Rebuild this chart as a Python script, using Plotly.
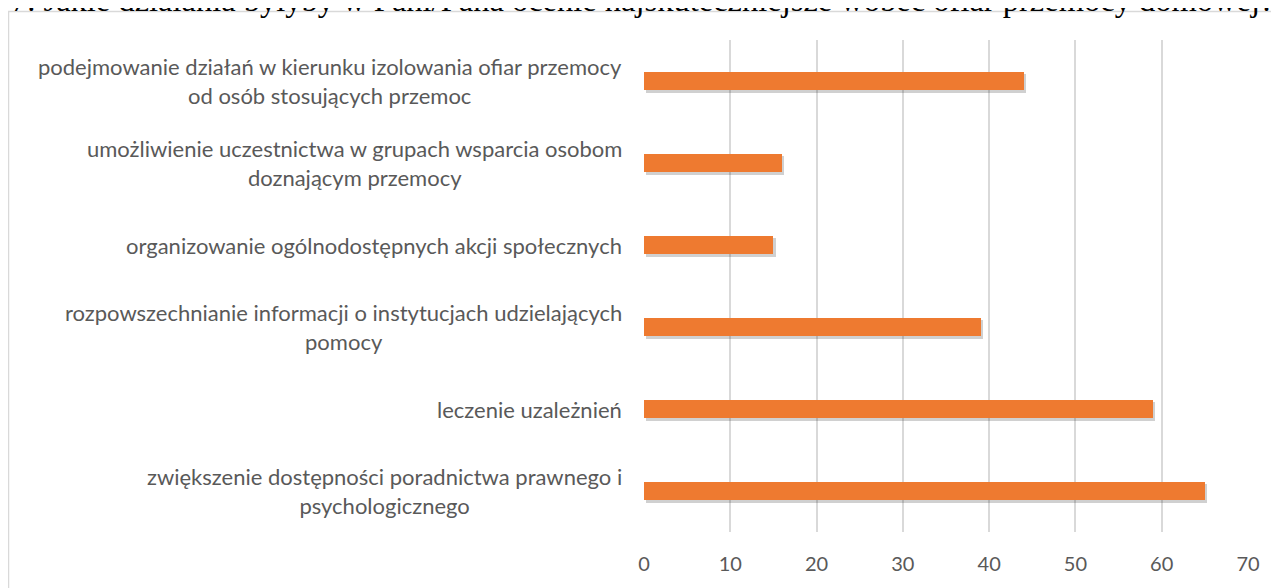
import plotly.graph_objects as go

categories = [
    "podejmowanie działań w kierunku izolowania ofiar przemocy<br>od osób stosujących przemoc",
    "umożliwienie uczestnictwa w grupach wsparcia osobom<br>doznającym przemocy",
    "organizowanie ogólnodostępnych akcji społecznych",
    "rozpowszechnianie informacji o instytucjach udzielających<br>pomocy",
    "leczenie uzależnień",
    "zwiększenie dostępności poradnictwa prawnego i<br>psychologicznego",
]
values = [44, 16, 15, 39, 59, 65]
tick_values = [0, 10, 20, 30, 40, 50, 60, 70]
title_text = "7. Jakie działania byłyby w Pani/Pana ocenie najskuteczniejsze wobec ofiar przemocy domowej?"

# page has an 8px body margin, so figure coords = screen coords - 8
W, H = 1279, 588
L, R, T, B = 636, 39, 32, 64
pw, ph = W - L - R, H - T - B


def px_y(py):
    return (H - B - py) / ph


def px_x(px):
    return (px - L) / pw


fig = go.Figure()
# soft shadow
fig.add_trace(go.Bar(
    y=categories, x=values, base=0.25, orientation="h", width=0.23, offset=-0.08,
    marker=dict(color="rgba(40,40,40,0.22)", line=dict(width=0)),
    hoverinfo="skip", showlegend=False,
))
fig.add_trace(go.Bar(
    y=categories, x=values, orientation="h", width=0.23, offset=-0.115,
    marker=dict(color="#EE7A30", line=dict(width=0)),
    showlegend=False,
))

for c in categories:
    fig.add_annotation(
        x=0, xref="paper", y=c, yref="y", xshift=-20,
        text=c, showarrow=False, xanchor="right", yanchor="middle", align="center",
        font=dict(family="Lato", size=22, color="#595959"),
    )

fig.add_annotation(
    x=px_x(634), xref="paper", y=px_y(12), yref="paper",
    text=title_text, showarrow=False, xanchor="center", yanchor="bottom",
    font=dict(family="Liberation Serif", size=32.5, color="#000000"),
)

# outer chart border
fig.add_shape(
    type="rect", xref="paper", yref="paper",
    x0=px_x(0.5), x1=px_x(W + 40),
    y0=px_y(H + 40), y1=px_y(3.5),
    line=dict(color="#D9D9D9", width=1.5), fillcolor="rgba(0,0,0,0)", layer="below",
)

fig.update_layout(
    width=W, height=H,
    margin=dict(l=L, r=R, t=T, b=B),
    paper_bgcolor="white", plot_bgcolor="white",
    barmode="overlay", bargap=0,
    xaxis=dict(
        range=[0, 70], tickvals=tick_values, showgrid=True, gridcolor="#D9D9D9", gridwidth=1.5,
        zeroline=False, showline=False, ticks="",
        tickfont=dict(family="Lato", size=20, color="#595959"), ticklabelstandoff=18,
    ),
    yaxis=dict(
        autorange="reversed", showticklabels=False, showgrid=False, zeroline=False,
        showline=False, ticks="",
    ),
)

fig.write_html("out.html")
